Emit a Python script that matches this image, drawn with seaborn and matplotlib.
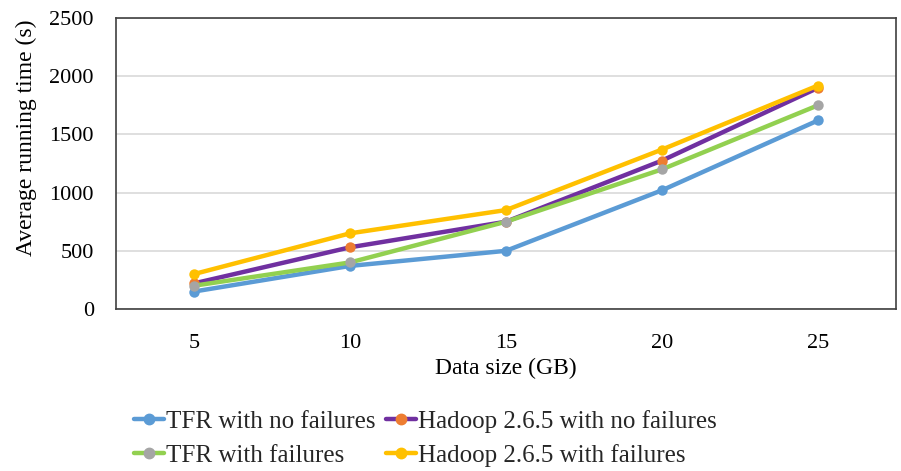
import matplotlib
matplotlib.use("Agg")
import matplotlib.pyplot as plt
import seaborn as sns
import pandas as pd
from matplotlib.lines import Line2D

sizes = ["5", "10", "15", "20", "25"]
tfr_no_fail = [150, 370, 500, 1020, 1620]
hadoop_no_fail = [220, 530, 750, 1275, 1900]
tfr_fail = [200, 400, 750, 1200, 1750]
hadoop_fail = [300, 650, 850, 1370, 1920]
series_names = ["TFR with no failures", "Hadoop 2.6.5 with no failures",
                "TFR with failures", "Hadoop 2.6.5 with failures"]
y_ticks = [0, 500, 1000, 1500, 2000, 2500]

line_colors = ["#5B9BD5", "#7030A0", "#92D050", "#FFC000"]
marker_colors = ["#5B9BD5", "#ED7D31", "#A5A5A5", "#FFC000"]

rows = []
for name, vals in zip(series_names, [tfr_no_fail, hadoop_no_fail, tfr_fail, hadoop_fail]):
    for i, (s, v) in enumerate(zip(sizes, vals)):
        rows.append({"pos": i, "size": s, "series": name, "time": v})
df = pd.DataFrame(rows)

sns.set_theme(style="white")
plt.rcParams["font.family"] = ["Liberation Serif", "DejaVu Serif"]

fig = plt.figure(figsize=(9.01, 4.71), dpi=100)
ax = fig.add_axes([116/901, 1 - 309/471, (896-116)/901, (309-18)/471])

LW = 3.2
MS = 7.5
sns.lineplot(data=df, x="pos", y="time", hue="series", hue_order=series_names,
             palette=line_colors, marker="o", markersize=MS, linewidth=LW,
             markeredgewidth=0, ax=ax, legend=False, sort=False)

for ln, mc in zip(ax.lines, marker_colors):
    ln.set_markerfacecolor(mc)
    ln.set_markeredgecolor(mc)
    ln.set_solid_capstyle("round")

ax.set_xlim(-0.5, len(sizes) - 0.5)
ax.set_ylim(0, 2500)
ax.set_yticks(y_ticks)
ax.set_yticklabels([str(t) for t in y_ticks])
ax.set_xticks(range(len(sizes)))
ax.set_xticklabels(sizes)
ax.tick_params(axis="both", labelsize=16, length=0, colors="black", pad=16)
ax.tick_params(axis="x", pad=18)
ax.yaxis.grid(True, color="#D9D9D9", linewidth=1.2)
ax.set_axisbelow(True)
for sp in ax.spines.values():
    sp.set_color("#404040")
    sp.set_linewidth(1.2)
    sp.set_visible(True)

ax.set_xlabel("Data size (GB)", fontsize=17, color="black")
ax.set_ylabel("Average running time (s)", fontsize=17, color="black")
ax.xaxis.set_label_coords((506 - 116) / 780, -(368 - 309) / 291)
ax.yaxis.set_label_coords(-(116 - 26) / 780, (309 - 138) / 291)
ax.xaxis.label.set_verticalalignment("center")
ax.yaxis.label.set_verticalalignment("center")

handles = [Line2D([0], [0], color=lc, lw=LW, marker="o", markersize=MS,
                  markerfacecolor=mc, markeredgecolor=mc)
           for lc, mc in zip(line_colors, marker_colors)]
order = [0, 2, 1, 3]
fig.legend([handles[i] for i in order], [series_names[i] for i in order],
           loc="center left", bbox_to_anchor=(134/901, 1 - 438.5/471),
           ncol=2, frameon=False, fontsize=18, handlelength=1.2, handletextpad=0.1,
           columnspacing=0.4, labelspacing=0.45, borderpad=0, borderaxespad=0)

fig.savefig("out.png", dpi=100)
